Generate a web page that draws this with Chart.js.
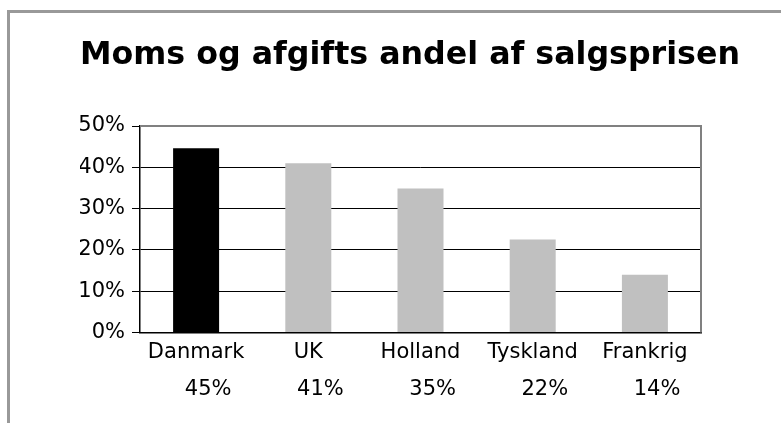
<!DOCTYPE html>
<html>
<head>
<meta charset="utf-8">
<script src="https://cdn.jsdelivr.net/npm/chart.js@4"></script>
<style>
  html, body { margin: 0; padding: 0; background: #fff; }
  body { width: 781px; height: 423px; position: relative; overflow: hidden; }
  .frame { position: absolute; left: 7px; top: 10px; width: 800px; height: 450px; border-left: 3px solid #999; border-top: 3px solid #999; }
  .wrap { position: absolute; left: 0; top: 0; width: 781px; height: 423px; }
</style>
</head>
<body>
<div class="frame"></div>
<div class="wrap"><canvas id="chart"></canvas></div>
<script>
const landes = ['Danmark', 'UK', 'Holland', 'Tyskland', 'Frankrig'];
const andel = [44.6, 41, 34.9, 22.5, 14];
const andelTekst = ['45%', '41%', '35%', '22%', '14%'];
const farver = ['#000000', '#c0c0c0', '#c0c0c0', '#c0c0c0', '#c0c0c0'];
const yTicks = [0, 10, 20, 30, 40, 50];

document.addEventListener('DOMContentLoaded', () => {
    const ramme = {
        id: 'ramme',
        afterDraw(chart) {
            const a = chart.chartArea, c = chart.ctx;
            c.save();
            c.strokeStyle = '#808080';
            c.lineWidth = 2;
            c.beginPath();
            c.moveTo(a.left, a.top);
            c.lineTo(a.right, a.top);
            c.lineTo(a.right, a.bottom);
            c.stroke();
            c.restore();
        }
    };
    // procenttal står lidt til højre for landenavnet
    const labels = landes.map((l, i) => [l, '   \u2009' + andelTekst[i]]);
    new Chart(document.getElementById('chart').getContext('2d'), {
        type: 'bar',
        data: { labels: labels, datasets: [{ data: andel, backgroundColor: farver, barPercentage: 0.41, categoryPercentage: 1 }] },
        options: {
            responsive: true, maintainAspectRatio: false, animation: false,
            layout: { padding: { left: 80, right: 41, top: 0, bottom: 13 } },
            plugins: {
                legend: { display: false }, tooltip: { enabled: false },
                title: { display: true, text: 'Moms og afgifts andel af salgsprisen', color: '#000',
                    font: { family: 'DejaVu Sans', size: 31.7, weight: 'bold' }, padding: { top: 36.5, bottom: 51.5 } }
            },
            scales: {
                x: {
                    grid: { display: false, drawTicks: false, tickLength: 0 },
                    border: { display: true, color: '#000', width: 1.5 },
                    ticks: { color: '#000', font: { family: 'DejaVu Sans', size: 21, lineHeight: 1.75 }, padding: 2, maxRotation: 0, autoSkip: false }
                },
                y: {
                    min: 0, max: 50,
                    afterBuildTicks: (ax) => { ax.ticks = yTicks.map(v => ({ value: v })); },
                    afterFit: (ax) => { ax.width = 60; },
                    grid: { color: '#000', lineWidth: 1, tickLength: 8, tickColor: '#000' },
                    border: { display: true, color: '#000', width: 1.5 },
                    ticks: { color: '#000', font: { family: 'DejaVu Sans', size: 21 }, padding: 7, callback: v => v + '%' }
                },
                // tom akse til højre, så plotområdet slutter ved 701 px
                hoejre: {
                    position: 'right', min: 0, max: 50,
                    grid: { display: false }, border: { display: false }, ticks: { display: false },
                    afterFit: (ax) => { ax.width = 39; }
                }
            }
        },
        plugins: [ramme]
    });
});
</script>
</body>
</html>
